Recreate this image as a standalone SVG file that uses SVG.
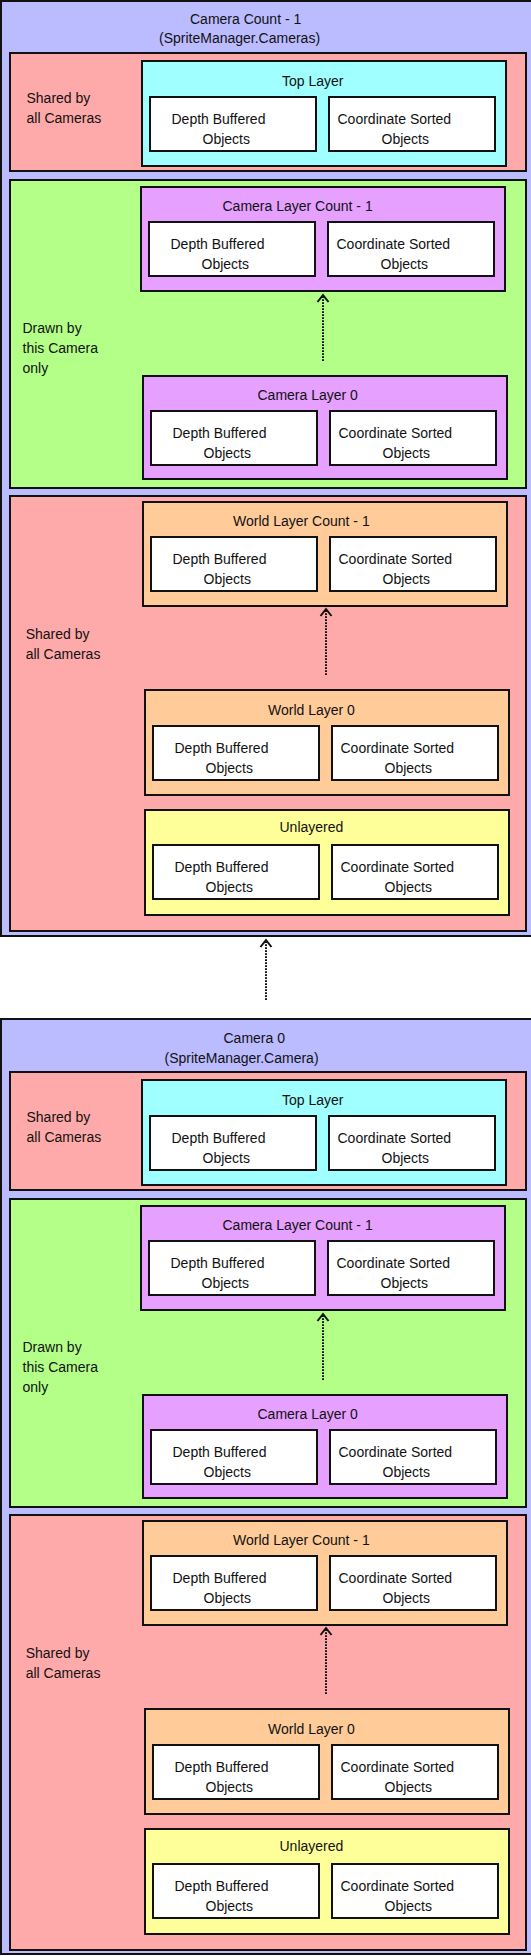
<svg xmlns="http://www.w3.org/2000/svg" width="531" height="1956" viewBox="0 0 531 1956">
<style>
rect{stroke:#111;stroke-width:2}
.cam{fill:#BBBBFF}
.shared{fill:#FFAAAA}
.drawn{fill:#B3FF88}
.top{fill:#A0FFFF}
.clay{fill:#E6A0FF}
.wlay{fill:#FFCC99}
.unl{fill:#FFFF99}
.obj{fill:#FFFFFF}
text{font-family:"Liberation Sans",Arial,sans-serif;font-size:14px;fill:#111}
.conn{stroke:#111;stroke-width:2;stroke-dasharray:1.7 1.3;fill:none}
</style>
<defs>
<marker id="arr" viewBox="0 0 12 14" refX="8" refY="7" markerWidth="12" markerHeight="14" markerUnits="userSpaceOnUse" orient="auto">
<path d="M1,1.5 L8,7 L1,12.5" fill="none" stroke="#111" stroke-width="2"/>
</marker>
<g id="objpair">
<rect class="obj" x="0" y="0" width="166" height="54"/>
<text x="21.5" y="27">Depth Buffered</text>
<text x="52.5" y="47">Objects</text>
<rect class="obj" x="179" y="0" width="166" height="54"/>
<text x="187.5" y="27">Coordinate Sorted</text>
<text x="231.5" y="47">Objects</text>
</g>
</defs>

<g id="cameraN">
<rect class="cam" x="1" y="1" width="540" height="935"/>
<text x="190" y="24">Camera Count - 1</text>
<text x="159" y="43">(SpriteManager.Cameras)</text>

<g id="cN-shared-top">
<rect class="shared" x="10" y="53" width="516" height="118"/>
<text x="26.5" y="103">Shared by</text>
<text x="26.5" y="123">all Cameras</text>
</g>
<g id="cN-toplayer">
<rect class="top" x="142" y="61" width="364" height="105"/>
<text x="282" y="86">Top Layer</text>
<use href="#objpair" x="150" y="97"/>
</g>

<g id="cN-drawn">
<rect class="drawn" x="10" y="180" width="516" height="308"/>
<text x="22.5" y="333">Drawn by</text>
<text x="22.5" y="353">this Camera</text>
<text x="22.5" y="373">only</text>
</g>
<g id="cN-camlayerN">
<rect class="clay" x="141" y="187" width="364" height="104"/>
<text x="222.5" y="211">Camera Layer Count - 1</text>
<use href="#objpair" x="149" y="222"/>
</g>
<g id="cN-camlayer0">
<rect class="clay" x="143" y="376" width="364" height="103"/>
<text x="257.5" y="399.5">Camera Layer 0</text>
<use href="#objpair" x="151" y="411"/>
</g>

<g id="cN-shared-world">
<rect class="shared" x="10" y="496" width="516" height="435"/>
<text x="25.7" y="638.5">Shared by</text>
<text x="25.7" y="658.5">all Cameras</text>
</g>
<g id="cN-worldlayerN">
<rect class="wlay" x="143" y="502" width="364" height="104"/>
<text x="233" y="526">World Layer Count - 1</text>
<use href="#objpair" x="151" y="537"/>
</g>
<g id="cN-worldlayer0">
<rect class="wlay" x="145" y="690" width="364" height="105"/>
<text x="268" y="714.5">World Layer 0</text>
<use href="#objpair" x="153" y="726"/>
</g>
<g id="cN-unlayered">
<rect class="unl" x="145" y="810" width="364" height="105"/>
<text x="279.5" y="832">Unlayered</text>
<use href="#objpair" x="153" y="845"/>
</g>
</g>

<g id="camera0" transform="translate(0,1019)">
<rect class="cam" x="1" y="0" width="540" height="935"/>
<text x="223.5" y="23.5">Camera 0</text>
<text x="164.5" y="43.5">(SpriteManager.Camera)</text>

<g id="c0-shared-top">
<rect class="shared" x="10" y="53" width="516" height="118"/>
<text x="26.5" y="103">Shared by</text>
<text x="26.5" y="123">all Cameras</text>
</g>
<g id="c0-toplayer">
<rect class="top" x="142" y="61" width="364" height="105"/>
<text x="282" y="86">Top Layer</text>
<use href="#objpair" x="150" y="97"/>
</g>

<g id="c0-drawn">
<rect class="drawn" x="10" y="180" width="516" height="308"/>
<text x="22.5" y="333">Drawn by</text>
<text x="22.5" y="353">this Camera</text>
<text x="22.5" y="373">only</text>
</g>
<g id="c0-camlayerN">
<rect class="clay" x="141" y="187" width="364" height="104"/>
<text x="222.5" y="211">Camera Layer Count - 1</text>
<use href="#objpair" x="149" y="222"/>
</g>
<g id="c0-camlayer0">
<rect class="clay" x="143" y="376" width="364" height="103"/>
<text x="257.5" y="399.5">Camera Layer 0</text>
<use href="#objpair" x="151" y="411"/>
</g>

<g id="c0-shared-world">
<rect class="shared" x="10" y="496" width="516" height="435"/>
<text x="25.7" y="638.5">Shared by</text>
<text x="25.7" y="658.5">all Cameras</text>
</g>
<g id="c0-worldlayerN">
<rect class="wlay" x="143" y="502" width="364" height="104"/>
<text x="233" y="526">World Layer Count - 1</text>
<use href="#objpair" x="151" y="537"/>
</g>
<g id="c0-worldlayer0">
<rect class="wlay" x="145" y="690" width="364" height="105"/>
<text x="268" y="714.5">World Layer 0</text>
<use href="#objpair" x="153" y="726"/>
</g>
<g id="c0-unlayered">
<rect class="unl" x="145" y="810" width="364" height="105"/>
<text x="279.5" y="832">Unlayered</text>
<use href="#objpair" x="153" y="845"/>
</g>
</g>

<g id="connectors">
<path class="conn" d="M323,361 L323,295" marker-end="url(#arr)"/>
<path class="conn" d="M326,675 L326,609" marker-end="url(#arr)"/>
<path class="conn" d="M266,1000 L266,940" marker-end="url(#arr)"/>
<path class="conn" d="M323,1380 L323,1314" marker-end="url(#arr)"/>
<path class="conn" d="M326,1694 L326,1628" marker-end="url(#arr)"/>
</g>
</svg>
